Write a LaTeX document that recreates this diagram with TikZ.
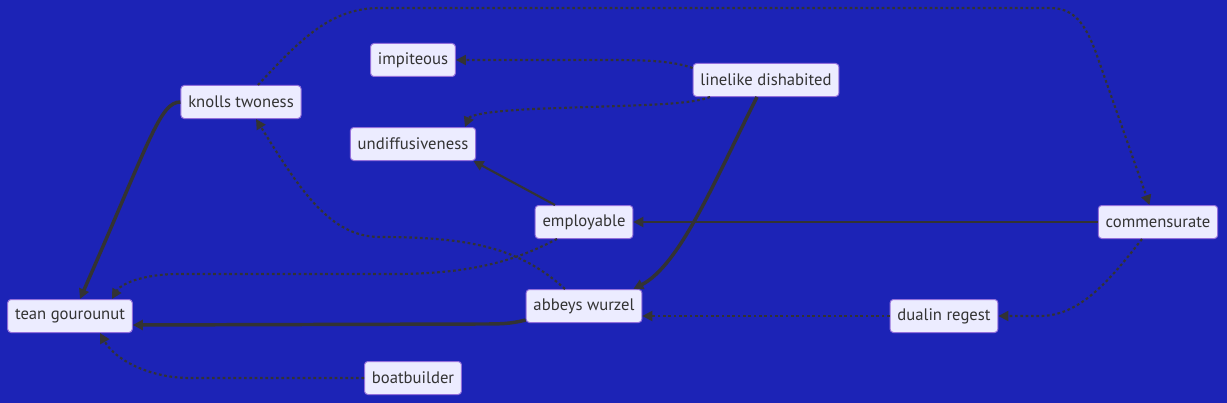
\documentclass[tikz,border=0pt]{standalone}
\usepackage{fontspec}
\setmainfont{PT Sans}
\usetikzlibrary{arrows.meta}
\definecolor{bgblue}{HTML}{1C23B6}
\definecolor{boxfill}{HTML}{ECECFF}
\definecolor{boxline}{HTML}{9370DB}
\definecolor{edgegrey}{HTML}{333333}
\begin{document}
\begin{tikzpicture}[x=0.75pt,y=-0.75pt,
    tip/.style={-{Triangle[length=7.5pt,width=7.5pt]}},
    heavy/.style={tip,draw=edgegrey,line width=2.6pt},
    plain/.style={tip,draw=edgegrey,line width=1.6pt},
    dots/.style={tip,draw=edgegrey,line width=1.6pt,dash pattern=on 2pt off 2pt}]

      \fill[bgblue] (0,0) rectangle (1227,403);
      \useasboundingbox (0,0) rectangle (1227,403);

      \begin{scope}[every node/.style={rectangle,rounded corners=2.5pt,draw=boxline,
          line width=0.75pt,fill=boxfill,text=edgegrey,font=\fontsize{12.5}{14}\selectfont,
          minimum height=24.75pt,inner xsep=5.5pt}]
        \node (1)  at (241,102) {knolls twoness};
        \node (2)  at (413,60)  {impiteous};
        \node (3)  at (413,144) {undiffusiveness};
        \node (4)  at (766,80)  {linelike dishabited};
        \node (5)  at (584,222) {employable};
        \node (6)  at (584,306) {abbeys wurzel};
        \node (7)  at (70,316)  {tean gourounut};
        \node (8)  at (1158,222) {commensurate};
        \node (9)  at (944,316) {dualin regest};
        \node (10) at (413,378) {boatbuilder};
      \end{scope}

      \path (8) edge[plain] (5);
      \path ([xshift=-21.75pt]5.north) edge[plain] ([xshift=-2pt]3.south east);
      \draw[dots] (9.west) -- (9.west -| 6.east);
      \draw[heavy] (1.west) .. controls (160,102) and (150,140) .. ([xshift=7.5pt]7.north);
      \draw[dots] ([xshift=12.75pt]1.north) .. controls (300,40) and (330,8) .. (380,8)
        -- (1050,8) .. controls (1075,8) and (1085,25) .. (1095,50)
        -- ([xshift=-6.4pt]8.north);
      \draw[dots] ([yshift=9pt]4.west) .. controls (670,60) and (640,60) .. (600,60) -- (2.east);
      \draw[dots] ([xshift=-42pt]4.south) .. controls (690,105) and (640,105) .. (560,108)
        .. controls (490,110) and (470,115) .. ([xshift=39pt]3.north);
      \draw[heavy] ([xshift=-6.75pt]4.south) .. controls (715,180) and (680,265) .. ([xshift=-6.75pt]6.north east);
      \draw[dots] ([xshift=-14.25pt]6.north) .. controls (520,248) and (470,237) .. (380,237)
        .. controls (330,237) and (300,190) .. ([xshift=11.25pt]1.south);
      \draw[dots] ([xshift=-20.25pt]5.south) .. controls (520,258) and (480,273) .. (400,274)
        -- (180,274) .. controls (140,274) and (120,285) .. ([xshift=31.5pt]7.north);
      \draw[heavy] ([yshift=-10.5pt]6.west) .. controls (510,324) and (500,324) .. (480,324)
        -- ([yshift=-6.75pt]7.east);
      \draw[dots] ([xshift=-12pt]8.south) .. controls (1110,280) and (1080,316) .. (1040,316)
        -- (9.east);
      \draw[dots] (10.west) -- (190,378) .. controls (150,378) and (115,360) .. ([xshift=22.5pt]7.south);

    \end{tikzpicture}
\end{document}
